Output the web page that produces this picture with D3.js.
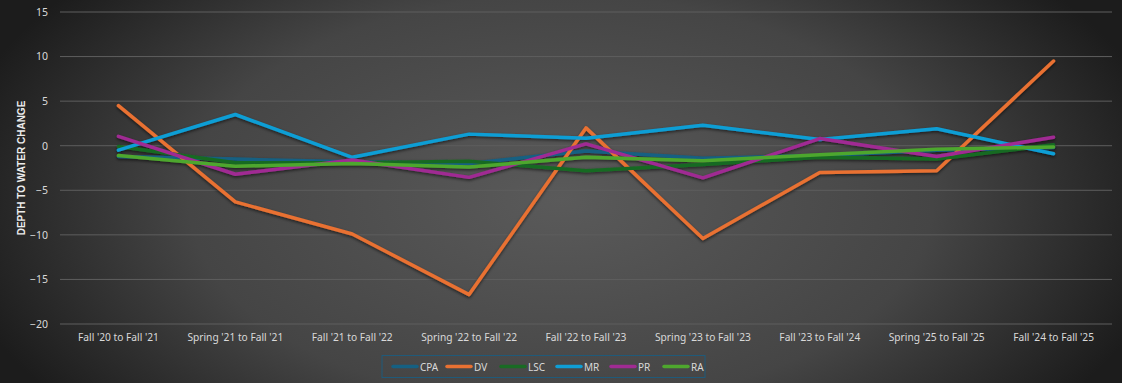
<!DOCTYPE html>
<html><head><meta charset="utf-8">
<script src="https://cdn.jsdelivr.net/npm/d3@7"></script>
<style>html,body{margin:0;padding:0;background:#333;}svg{display:block;}</style>
</head><body>
<svg id="chart" width="1122" height="383"></svg>
<script>
const categories = ["Fall '20 to Fall '21","Spring '21 to Fall '21","Fall '21 to Fall '22","Spring '22 to Fall '22","Fall '22 to Fall '23","Spring '23 to Fall '23","Fall '23 to Fall '24","Spring '25 to Fall '25","Fall '24 to Fall '25"];
const seriesNames = ["CPA","DV","LSC","MR","PR","RA"];
const seriesColors = ["#156082","#E97132","#196B24","#0F9ED5","#A02B93","#4EA72E"];
const CPA = [-1.2,-1.5,-1.8,-2.0,-0.6,-1.4,-1.1,-0.5,-0.2];
const DV  = [4.5,-6.3,-9.9,-16.7,2.0,-10.4,-3.0,-2.8,9.5];
const LSC = [-0.1,-1.9,-1.9,-1.75,-2.8,-2.1,-1.3,-1.5,0.1];
const MR  = [-0.5,3.5,-1.3,1.3,0.85,2.3,0.7,1.9,-0.9];
const PR  = [1.05,-3.2,-1.6,-3.55,0.2,-3.6,0.8,-1.2,0.95];
const RA  = [-1.1,-2.3,-2.0,-2.4,-1.3,-1.7,-1.0,-0.4,-0.15];
const seriesValues = [CPA,DV,LSC,MR,PR,RA];
const yTicks = [-20,-15,-10,-5,0,5,10,15];
const yTitle = "DEPTH TO WATER CHANGE";

const W=1122,H=383;
const svg=d3.select("#chart");
const defs=svg.append("defs");
const rg=defs.append("radialGradient").attr("id","bg").attr("gradientUnits","userSpaceOnUse")
  .attr("cx",561).attr("cy",200).attr("r",620).attr("gradientTransform","translate(561,200) scale(1,0.55) translate(-561,-200)");
rg.append("stop").attr("offset","0%").attr("stop-color","#5a5a5a");
rg.append("stop").attr("offset","60%").attr("stop-color","#454545");
rg.append("stop").attr("offset","100%").attr("stop-color","#1c1c1c");
const f=defs.append("filter").attr("id","shadow").attr("x","-5%").attr("y","-20%").attr("width","110%").attr("height","140%");
f.append("feDropShadow").attr("dx",0).attr("dy",1.5).attr("stdDeviation",1.5).attr("flood-color","#000").attr("flood-opacity",0.6);

svg.append("rect").attr("width",W).attr("height",H).attr("fill","url(#bg)");

const x=d3.scaleBand().domain(categories).range([60,1112]);
const y=d3.scaleLinear().domain([-20,15]).range([324,12]);

const font="'Noto Sans', 'Open Sans', sans-serif";
svg.append("g").selectAll("line").data(yTicks).join("line")
  .attr("x1",60).attr("x2",1112).attr("y1",d=>y(d)).attr("y2",d=>y(d))
  .attr("stroke","#5e5e5e").attr("stroke-width",1);

const yAxis=svg.append("g").attr("transform","translate(56,0)")
  .call(d3.axisLeft(y).tickValues(yTicks).tickSize(0).tickPadding(8));
yAxis.select(".domain").remove();
yAxis.selectAll("text").attr("fill","#d9d9d9").style("font-family",font).style("font-size","10.5px");

const xAxis=svg.append("g").attr("transform","translate(0,332)")
  .call(d3.axisBottom(x).tickSize(0).tickPadding(2));
xAxis.select(".domain").remove();
xAxis.selectAll("text").attr("fill","#d9d9d9").style("font-family",font).style("font-size","10.2px");

svg.append("text").attr("transform","translate(25,168) rotate(-90)").attr("text-anchor","middle")
  .attr("fill","#ececec").style("font-family","'Liberation Sans', Arial, sans-serif").style("font-size","10px").style("font-weight","bold").text(yTitle);

const line=d3.line().x((d,i)=>x(categories[i])+x.bandwidth()/2).y(d=>y(d));
svg.append("g").attr("filter","url(#shadow)").selectAll("path").data(seriesValues).join("path")
  .attr("d",d=>line(d)).attr("fill","none").attr("stroke",(d,i)=>seriesColors[i])
  .attr("stroke-width",3.5).attr("stroke-linejoin","round").attr("stroke-linecap","round");

const lg=svg.append("g");
lg.append("rect").attr("x",382).attr("y",355.5).attr("width",323).attr("height",22).attr("fill","none").attr("stroke","#1f5a7a").attr("stroke-width",1);
const itemW=[54,54,56,54,53,50];
let lx=393;
seriesNames.forEach((n,i)=>{
  lg.append("line").attr("x1",lx).attr("x2",lx+24).attr("y1",366.5).attr("y2",366.5)
    .attr("stroke",seriesColors[i]).attr("stroke-width",3.5).attr("stroke-linecap","round");
  lg.append("text").attr("x",lx+27).attr("y",370.5).attr("fill","#d9d9d9").style("font-family",font).style("font-size","10px").text(n);
  lx+=itemW[i];
});
</script>
</body></html>
